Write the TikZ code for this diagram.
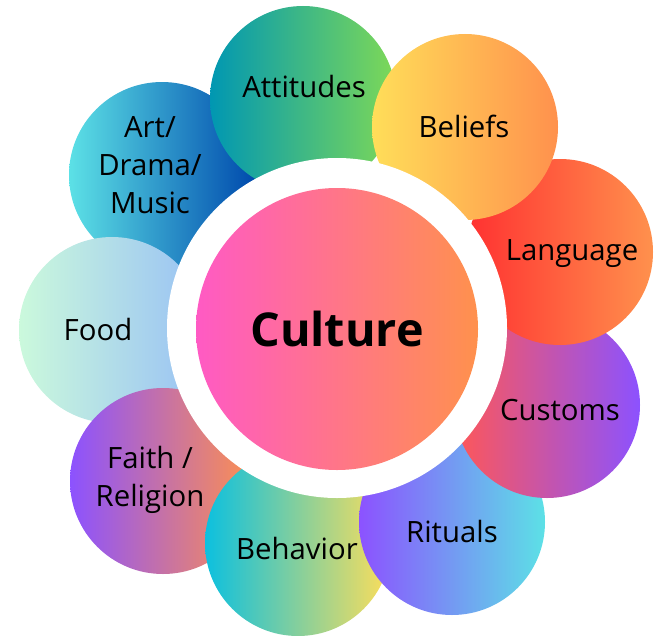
\documentclass[tikz,border=0pt]{standalone}
\usepackage{fontspec}
\setmainfont{Open Sans}

\definecolor{artA}{HTML}{5CE1E6}
\definecolor{artB}{HTML}{004AAD}
\definecolor{attA}{HTML}{0097B2}
\definecolor{attB}{HTML}{7ED957}
\definecolor{belA}{HTML}{FFDE59}
\definecolor{belB}{HTML}{FF914D}
\definecolor{lanA}{HTML}{FF3131}
\definecolor{lanB}{HTML}{FF914D}
\definecolor{cusA}{HTML}{FF5757}
\definecolor{cusB}{HTML}{8C52FF}
\definecolor{ritA}{HTML}{8C52FF}
\definecolor{ritB}{HTML}{5CE1E6}
\definecolor{behA}{HTML}{0CC0DF}
\definecolor{behB}{HTML}{FFDE59}
\definecolor{faiA}{HTML}{8C52FF}
\definecolor{faiB}{HTML}{FF914D}
\definecolor{fooA}{HTML}{CBF9DC}
\definecolor{fooB}{HTML}{98C0F5}
\definecolor{culA}{HTML}{FF5AC4}
\definecolor{culB}{HTML}{FF914D}

\begin{document}
\begin{tikzpicture}[x=0.75pt, y=-0.75pt,
  petal/.style={circle, minimum size=139.5pt, inner sep=0pt},
  tag/.style={align=center, text=black, font=\fontsize{22}{28.5}\selectfont}]
\path[use as bounding box] (0,0) rectangle (656,635);
% outer circles, back to front
\node[petal, left color=artA, right color=artB] (art) at (162,175) {};
\node[petal, left color=fooA, right color=fooB] (food) at (112,330) {};
\node[petal, left color=faiA, right color=faiB] (faith) at (163,481) {};
\node[petal, left color=behA, right color=behB] (behavior) at (298,543) {};
\node[petal, left color=ritA, right color=ritB] (rituals) at (452,522) {};
\node[petal, left color=cusA, right color=cusB] (customs) at (547,405) {};
\node[petal, left color=lanA, right color=lanB] (language) at (560,252) {};
\node[petal, left color=attA, right color=attB] (attitudes) at (303,99) {};
\node[petal, left color=belA, right color=belB] (beliefs) at (465,127) {};
% centre
\node[circle, fill=white, minimum size=255pt] (ring) at (337,328) {};
\node[circle, minimum size=211.5pt, left color=culA, right color=culB,
  font=\bfseries\fontsize{35}{40}\selectfont] (culture) at (337,329) {Culture};
% labels
\node[tag] (artL) at (150,165) {Art/\\Drama/\\Music};
\node[tag] (foodL) at (98,329) {Food};
\node[tag] (faithL) at (150,480) {Faith /\\Religion};
\node[tag] (behaviorL) at (297,548) {Behavior};
\node[tag] (ritualsL) at (452,531) {Rituals};
\node[tag] (customsL) at (560,410) {Customs};
\node[tag] (languageL) at (572,254) {Language};
\node[tag] (attitudesL) at (304,87) {Attitudes};
\node[tag] (beliefsL) at (464,126) {Beliefs};
\end{tikzpicture}
\end{document}
